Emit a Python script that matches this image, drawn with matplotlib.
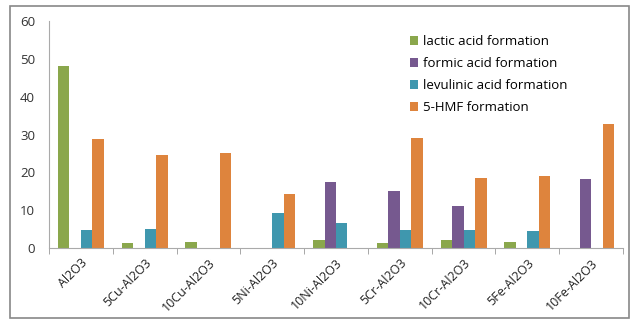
import matplotlib
matplotlib.use("Agg")
import matplotlib.pyplot as plt
import numpy as np
from matplotlib.patches import Rectangle

categories = ["Al2O3", "5Cu-Al2O3", "10Cu-Al2O3", "5Ni-Al2O3", "10Ni-Al2O3",
              "5Cr-Al2O3", "10Cr-Al2O3", "5Fe-Al2O3", "10Fe-Al2O3"]
series_names = ["lactic acid formation", "formic acid formation",
                "levulinic acid formation", "5-HMF formation"]
lactic = [48.2, 1.3, 1.7, 0, 2.0, 1.3, 2.0, 1.5, 0]
formic = [0, 0, 0, 0, 17.4, 15.1, 11.1, 0, 18.3]
levulinic = [4.7, 5.0, 0, 9.2, 6.5, 4.7, 4.7, 4.4, 0]
hmf = [28.9, 24.6, 25.0, 14.4, 0, 29.2, 18.4, 18.9, 32.8]
y_ticks = [0, 10, 20, 30, 40, 50, 60]

colors = ["#8aa74c", "#76598f", "#3f97ae", "#de843d"]

plt.rcParams['font.family'] = ['Open Sans', 'DejaVu Sans']

fig = plt.figure(figsize=(6.34, 3.2), dpi=100)
ax = fig.add_axes([49/634, 1 - 248/320, (623-49)/634, (248-21)/320])

x = np.arange(len(categories))
w = 0.18
for i, (vals, name) in enumerate(zip([lactic, formic, levulinic, hmf], series_names)):
    ax.bar(x + (i - 1.5) * w, vals, width=w, color=colors[i], label=name,
           edgecolor='none', zorder=2)

ax.set_xlim(-0.5, len(categories) - 0.5)
ax.set_ylim(0, 60)
ax.set_yticks(y_ticks)
ax.set_yticklabels([str(t) for t in y_ticks], fontsize=9.5, color='#333333')
ax.tick_params(axis='y', length=0, pad=10)

ax.set_xticks(x)
ax.set_xticklabels(categories, rotation=45, ha='right', rotation_mode='anchor',
                   fontsize=9, color='#222222')
ax.tick_params(axis='x', length=0, pad=6)
# category divider ticks on the bottom axis
ax.set_xticks(np.arange(len(categories) + 1) - 0.5, minor=True)
ax.tick_params(axis='x', which='minor', length=4, color='#999999', direction='out')

for s in ['top', 'right']:
    ax.spines[s].set_visible(False)
ax.spines['left'].set_color('#aaaaaa')
ax.spines['bottom'].set_color('#aaaaaa')

leg = ax.legend(loc='upper left', bbox_to_anchor=((405-49)/574, (248-30)/227),
                frameon=False, fontsize=9.5, handlelength=0.6, handleheight=0.6,
                handletextpad=0.4, labelspacing=0.68, borderaxespad=0)

# outer chart frame
fig.patches.append(Rectangle((10/634, 2/320), 619/634, 312/320, transform=fig.transFigure,
                             fill=False, edgecolor='#888888', linewidth=1.2))

fig.savefig("out.png", dpi=100)
